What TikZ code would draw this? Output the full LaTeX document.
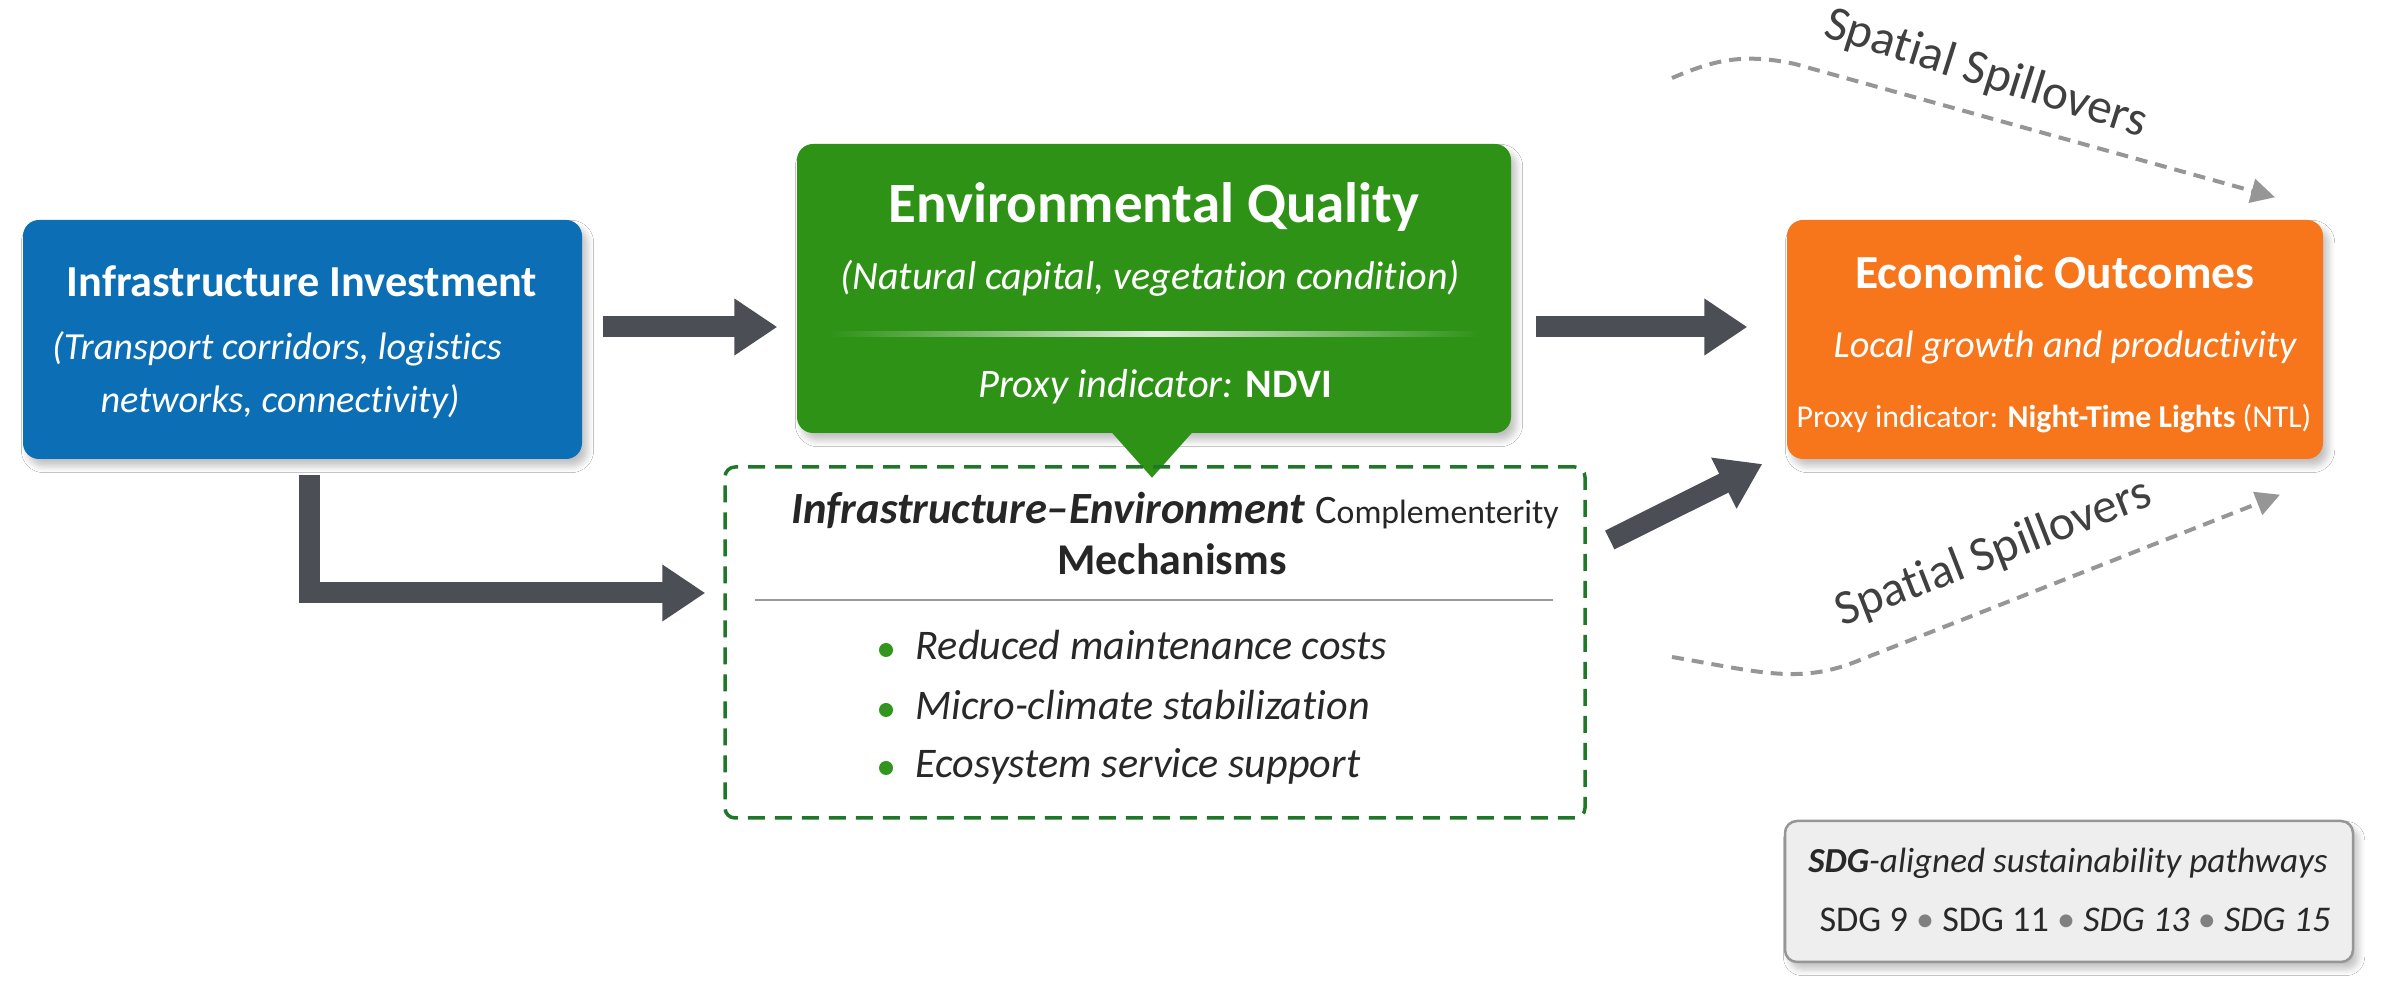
\documentclass[tikz,border=0pt]{standalone}
\usepackage{fontspec}
\setmainfont{Carlito}[Ligatures=NoCommon]
\usetikzlibrary{arrows.meta,calc,shadows.blur}
\definecolor{bluec}{RGB}{12,110,180}
\definecolor{greenc}{RGB}{46,146,22}
\definecolor{orangec}{RGB}{247,118,28}
\definecolor{arrowc}{RGB}{75,78,84}
\definecolor{dashc}{RGB}{30,120,40}
\definecolor{dotc}{RGB}{50,150,30}
\definecolor{spillc}{RGB}{150,150,150}
\definecolor{txtc}{RGB}{40,40,40}
\definecolor{sdgfill}{RGB}{238,238,238}
\definecolor{sdgdraw}{RGB}{150,150,150}
\tikzset{
 box/.style={rounded corners=1.6mm, inner sep=0pt, blur shadow={shadow blur steps=6, shadow xshift=0.5mm, shadow yshift=-0.7mm, shadow opacity=25}},
 bigarrow/.style={draw=arrowc, line width=2.1mm, line join=miter, -{Triangle[length=4.3mm,width=5.4mm]}},
 spill/.style={draw=spillc, line width=0.4mm, dash pattern=on 1.2mm off 0.8mm, -{Triangle[length=2.4mm,width=2.4mm]}},
 wt/.style={text=white, anchor=base, inner sep=0pt},
 dt/.style={text=txtc, anchor=base, inner sep=0pt},
 bul/.style={circle, fill=dotc, inner sep=0pt, minimum size=1.4mm},
}
\begin{document}
\begin{tikzpicture}[x=0.1mm,y=-0.1mm]
\useasboundingbox (0,0) rectangle (2384,990);
\fill[white] (0,0) rectangle (2384,990);
% boxes
\node[box, fill=bluec, minimum width=55.9mm, minimum height=23.9mm] (blue) at (302.5,339.5) {};
\node[box, fill=greenc, minimum width=71.4mm, minimum height=28.9mm] (green) at (1154,288.5) {};
\fill[greenc] ($(green.south)+(-42,-1)$) -- ($(green.south)+(-2,44)$) -- ($(green.south)+(38,-1)$) -- cycle;
\shade[left color=greenc, right color=greenc, middle color=white!85!greenc] (830,332) rectangle (1480,337);
\node[box, fill=orangec, minimum width=53.6mm, minimum height=23.9mm] (orange) at (2055,339.5) {};
\node[draw=dashc, line width=0.35mm, dash pattern=on 1.7mm off 1mm, rounded corners=1mm, minimum width=86mm, minimum height=35.1mm, inner sep=0pt] (dash) at (1155,642.5) {};
\node[box, fill=sdgfill, draw=sdgdraw, line width=0.25mm, rounded corners=1.2mm, minimum width=56.8mm, minimum height=14.1mm] (sdg) at (2069,891.5) {};
% blue text
\node[wt, font=\bfseries\fontsize{12.6}{15}\selectfont] (bt1) at (302,297) {Infrastructure Investment};
\node[wt, font=\itshape\fontsize{10.9}{13}\selectfont] (bt2) at (277,360) {(Transport corridors, logistics};
\node[wt, font=\itshape\fontsize{10.9}{13}\selectfont] (bt3) at (280,413) {networks, connectivity)};
% green text
\node[wt, font=\bfseries\fontsize{16.2}{19}\selectfont] (gt1) at (1154,223) {Environmental Quality};
\node[wt, font=\itshape\fontsize{11.4}{14}\selectfont] (gt2) at (1150,290) {(Natural capital, vegetation condition)};
\node[wt, font=\fontsize{11.5}{14}\selectfont] (gt3) at (1155,398) {\textit{Proxy indicator:} \textbf{NDVI}};
% orange text
\node[wt, font=\bfseries\fontsize{13.5}{16}\selectfont] (ot1) at (2055,289) {Economic Outcomes};
\node[wt, font=\itshape\fontsize{10.9}{13}\selectfont] (ot2) at (2065,358) {Local growth and productivity};
\node[wt, font=\fontsize{9.05}{11}\selectfont] (ot3) at (2054,428) {Proxy indicator: \textbf{Night-Time Lights} (NTL)};
% dashed box text
\node[dt, font=\fontsize{12.7}{15}\selectfont, text=black!85] (mt1) at (1175,524) {\textbf{\textit{Infrastructure–Environment}} {\fontsize{11.5}{13}\selectfont C\fontsize{9.6}{12}\selectfont omplementerity}};
\node[dt, font=\bfseries\fontsize{12.5}{15}\selectfont, text=black!85] (mt2) at (1172,575) {Mechanisms};
\draw[black!40, line width=0.2mm] (755,600) -- (1553,600);
\node[bul] (d1) at (886,650) {};
\node[bul] (d2) at (886,710) {};
\node[bul] (d3) at (886,768) {};
\node[dt, anchor=base west, font=\itshape\fontsize{12}{14}\selectfont] (l1) at (915,660) {Reduced maintenance costs};
\node[dt, anchor=base west, font=\itshape\fontsize{12}{14}\selectfont] (l2) at (915,720) {Micro-climate stabilization};
\node[dt, anchor=base west, font=\itshape\fontsize{12}{14}\selectfont] (l3) at (915,778) {Ecosystem service support};
% sdg text
\node[dt, font=\itshape\fontsize{10}{12}\selectfont] (st1) at (2068,873) {\textbf{SDG}-aligned sustainability pathways};
\node[dt, font=\fontsize{10.3}{12}\selectfont] (st2) at (2075,932) {SDG 9 {\color{gray}•} SDG 11 {\color{gray}•} \textit{SDG 13} {\color{gray}•} \textit{SDG 15}};
% big arrows
\coordinate (a1s) at ($(blue.east)+(20,-12.5)$);
\draw[bigarrow, shorten >=1.9mm] (a1s) -- (a1s -| green.west);
\coordinate (a2s) at ($(green.east)+(24,38.5)$);
\draw[bigarrow, shorten >=3.9mm] (a2s) -- (a2s -| orange.west);
\coordinate (e1) at ($(blue.south)+(6.5,15)$);
\coordinate (e2) at ($(dash.west)+(-18,-49.5)$);
\draw[bigarrow] (e1) |- (e2);
\coordinate (g1) at ($(dash.east)+(23,-102.5)$);
\coordinate (g2) at ($(orange.west)+(-24,124.5)$);
\draw[bigarrow] (g1) -- (g2);
% spillovers
\coordinate (s1a) at (1672,78);
\coordinate (s1e) at ($(orange.north)+(220,-22)$);
\draw[spill] (s1a) .. controls (1710,62) and (1740,52) .. (1795,64) -- (s1e);
\node[text=black!75, font=\fontsize{14}{16}\selectfont, rotate=-17.5, inner sep=0pt] (sp1) at (1986,74) {Spatial Spillovers};
\coordinate (s2a) at (1672,657);
\coordinate (s2e) at ($(orange.south)+(225,35)$);
\draw[spill] (s2a) .. controls (1760,672) and (1800,685) .. (1860,660) -- (s2e);
\node[text=black!75, font=\fontsize{14}{16}\selectfont, rotate=21.3, inner sep=0pt] (sp2) at (1994,553) {Spatial Spillovers};
\end{tikzpicture}
\end{document}
